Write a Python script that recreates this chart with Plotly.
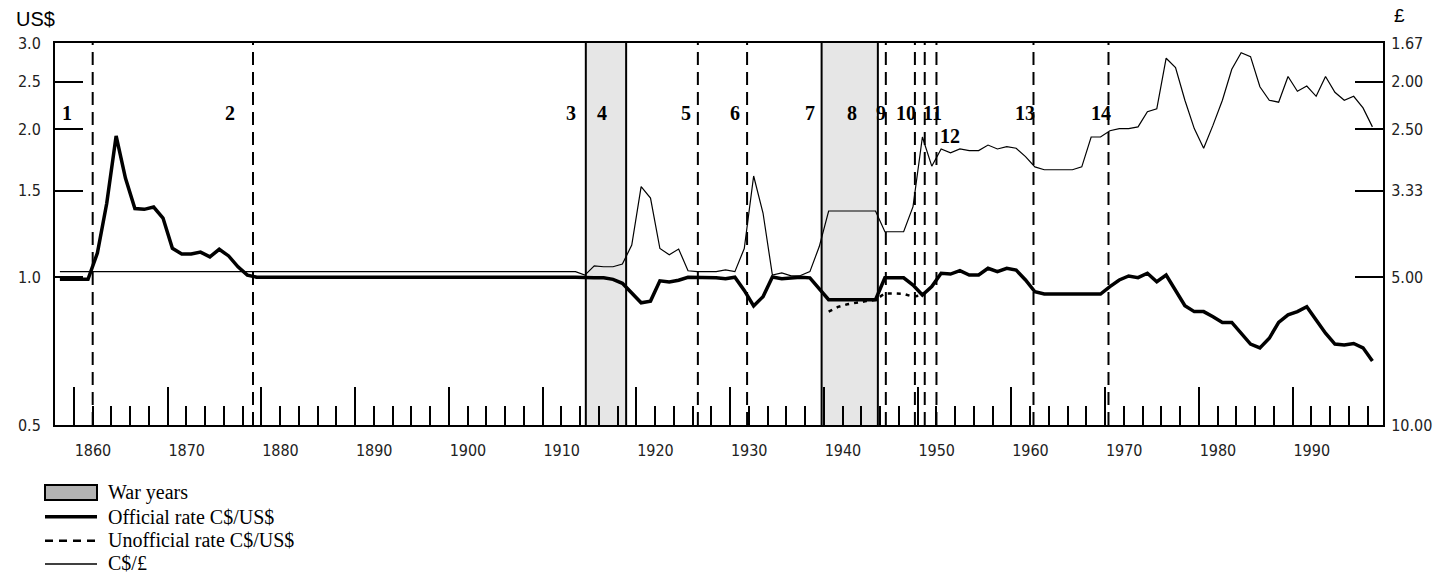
import numpy as np
import plotly.graph_objects as go

# ---------------- data ----------------
official_years = [1858, 1861, 1862, 1863, 1864, 1865, 1866, 1867, 1868, 1869, 1870, 1871, 1872,
                  1873, 1874, 1875, 1876, 1877, 1878, 1879, 1913, 1914, 1915, 1916, 1917, 1918,
                  1919, 1920, 1921, 1922, 1923, 1924, 1925, 1926, 1927, 1928, 1929, 1930, 1931,
                  1932, 1933, 1934, 1935, 1936, 1937, 1938, 1939, 1940, 1941, 1942, 1943, 1944,
                  1945, 1946, 1947, 1948, 1949, 1950, 1951, 1952, 1953, 1954, 1955, 1956, 1957,
                  1958, 1959, 1960, 1961, 1962, 1963, 1964, 1965, 1966, 1967, 1968, 1969, 1970,
                  1971, 1972, 1973, 1974, 1975, 1976, 1977, 1978, 1979, 1980, 1981, 1982, 1983,
                  1984, 1985, 1986, 1987, 1988, 1989, 1990, 1991, 1992, 1993, 1994, 1995, 1996,
                  1997, 1998]
official_rate = [0.99, 0.99, 1.12, 1.415, 1.94, 1.59, 1.38, 1.375, 1.39, 1.32, 1.145, 1.115, 1.115,
                 1.125, 1.10, 1.14, 1.105, 1.05, 1.01, 1.00, 1.00, 0.997, 0.998, 0.997, 0.99, 0.972,
                 0.927, 0.887, 0.894, 0.983, 0.978, 0.986, 1.00, 1.00, 0.997, 0.997, 0.993, 1.00, 0.94,
                 0.874, 0.913, 1.001, 0.993, 0.997, 1.00, 0.997, 0.949, 0.90, 0.90, 0.90, 0.90, 0.90,
                 0.90, 0.997, 0.997, 0.997, 0.964, 0.92, 0.957, 1.019, 1.015, 1.031, 1.0105, 1.0105, 1.043,
                 1.026, 1.043, 1.034, 0.987, 0.934, 0.924, 0.924, 0.924, 0.924, 0.924, 0.924, 0.924, 0.957,
                 0.987, 1.006, 0.998, 1.019, 0.979, 1.0105, 0.939, 0.875, 0.851, 0.851, 0.831, 0.809, 0.809,
                 0.769, 0.731, 0.718, 0.751, 0.809, 0.838, 0.851, 0.871, 0.818, 0.769, 0.731, 0.728, 0.733,
                 0.718, 0.675]

unofficial_years = [1940, 1941, 1942, 1943, 1944, 1945, 1946, 1947, 1948, 1949, 1950]
unofficial_rate = [0.851, 0.870, 0.881, 0.889, 0.894, 0.899, 0.927, 0.927, 0.925, 0.913, 0.92]

sterling_years = [1858, 1913, 1914, 1915, 1916, 1917, 1918, 1919, 1920, 1921, 1922, 1923, 1924,
                  1925, 1926, 1927, 1928, 1929, 1930, 1931, 1932, 1933, 1934, 1935, 1936, 1937,
                  1938, 1939, 1940, 1941, 1942, 1943, 1944, 1945, 1946, 1947, 1948, 1949, 1950,
                  1951, 1952, 1953, 1954, 1955, 1956, 1957, 1958, 1959, 1960, 1961, 1962, 1963,
                  1964, 1965, 1966, 1967, 1968, 1969, 1970, 1971, 1972, 1973, 1974, 1975, 1976,
                  1977, 1978, 1979, 1980, 1981, 1982, 1983, 1984, 1985, 1986, 1987, 1988, 1989,
                  1990, 1991, 1992, 1993, 1994, 1995, 1996, 1997, 1998]
sterling_rate = [4.87, 4.87, 4.95, 4.74, 4.76, 4.76, 4.70, 4.30, 3.27, 3.45, 4.37, 4.50, 4.38,
                 4.85, 4.87, 4.87, 4.87, 4.83, 4.87, 4.37, 3.11, 3.70, 4.95, 4.90, 4.97, 4.96,
                 4.87, 4.33, 3.665, 3.665, 3.665, 3.665, 3.665, 3.665, 4.04, 4.04, 4.04, 3.59, 2.59,
                 2.97, 2.74, 2.79, 2.74, 2.76, 2.76, 2.69, 2.74, 2.71, 2.73, 2.84, 2.98, 3.02,
                 3.02, 3.02, 3.02, 2.98, 2.59, 2.59, 2.515, 2.49, 2.49, 2.47, 2.30, 2.27, 1.79,
                 1.87, 2.18, 2.49, 2.73, 2.45, 2.18, 1.885, 1.744, 1.777, 2.046, 2.18, 2.20, 1.95,
                 2.09, 2.04, 2.14, 1.95, 2.10, 2.18, 2.14, 2.26, 2.47]

war_periods = [(1914.1, 1918.4), (1939.25, 1945.25)]
regime_breaks = [1861.5, 1878.6, 1926.05, 1931.3, 1946.1, 1949.2, 1950.25, 1951.5, 1961.85, 1969.85]
regime_labels = ["1", "2", "3", "4", "5", "6", "7", "8", "9", "10", "11", "12", "13", "14"]
regime_label_x = [1858.8, 1876.15, 1912.5, 1915.8, 1924.8, 1930.0, 1938.0, 1942.5, 1945.6,
                  1948.25, 1951.1, 1952.9, 1960.95, 1969.1]
regime_label_row = [0, 0, 0, 0, 0, 0, 0, 0, 0, 0, 0, 1, 0, 0]

decade_labels = [1860, 1870, 1880, 1890, 1900, 1910, 1920, 1930, 1940, 1950, 1960, 1970, 1980, 1990]
usd_ticks = [0.5, 1.0, 1.5, 2.0, 2.5, 3.0]
usd_ticktext = ["0.5", "1.0", "1.5", "2.0", "2.5", "3.0"]
gbp_ticks = [5 / 3, 2.0, 2.5, 10 / 3, 5.0, 10.0]
gbp_ticktext = ["1.67", "2.00", "2.50", "3.33", "5.00", "10.00"]

legend_names = ["War years", "Official rate C$/US$", "Unofficial rate C$/US$", "C$/£"]

# ---------------- layout ----------------
W, H = 1433, 574
PL, PT, PWID, PHGT = 55, 43, 1328, 382          # plot area in page pixels
ML, MT = PL, PT
MR = W - ML - PWID
MB = H - MT - PHGT


def px(xp):
    return (xp - PL) / PWID


def py(yp):
    return (PT + PHGT - yp) / PHGT


TICKFONT = dict(family="Liberation Sans Narrow, DejaVu Sans Condensed, Arial Narrow, sans-serif",
                size=16, color="#222")
SERIF = "Liberation Serif, DejaVu Serif, serif"

fig = go.Figure()
fig.add_trace(go.Scatter(x=official_years, y=official_rate, mode="lines",
                         line=dict(color="black", width=3.5), name=legend_names[1]))
fig.add_trace(go.Scatter(x=unofficial_years, y=unofficial_rate, mode="lines",
                         line=dict(color="black", width=2.5, dash="4px,5px"),
                         name=legend_names[2]))
fig.add_trace(go.Scatter(x=sterling_years, y=sterling_rate, mode="lines", yaxis="y2",
                         line=dict(color="black", width=1.2), name=legend_names[3]))

shapes = []
for a, b in war_periods:
    shapes.append(dict(type="rect", xref="x", yref="paper", x0=a, x1=b, y0=0, y1=1,
                       fillcolor="#e6e6e6", line=dict(width=0), layer="below"))
    for xv in (a, b):
        shapes.append(dict(type="line", xref="x", yref="paper", x0=xv, x1=xv, y0=0, y1=1,
                           line=dict(color="black", width=2)))
for xv in regime_breaks:
    shapes.append(dict(type="line", xref="x", yref="paper", x0=xv, x1=xv, y0=0, y1=1,
                       line=dict(color="black", width=2, dash="13px,7px")))

# legend keys (drawn below the plot)
shapes.append(dict(type="rect", xref="paper", yref="paper", x0=px(45), x1=px(97),
                   y0=py(500), y1=py(485), fillcolor="#b3b3b3",
                   line=dict(color="black", width=2)))
shapes.append(dict(type="line", xref="paper", yref="paper", x0=px(45), x1=px(97),
                   y0=py(516.7), y1=py(516.7), line=dict(color="black", width=3.5)))
shapes.append(dict(type="line", xref="paper", yref="paper", x0=px(45), x1=px(97),
                   y0=py(540.7), y1=py(540.7), line=dict(color="black", width=2.5, dash="8px,6px")))
shapes.append(dict(type="line", xref="paper", yref="paper", x0=px(45), x1=px(97),
                   y0=py(564), y1=py(564), line=dict(color="black", width=1.5)))

annotations = []
for lab, xv, row in zip(regime_labels, regime_label_x, regime_label_row):
    annotations.append(dict(x=xv, y=py(113) if row == 0 else py(136), xref="x", yref="paper",
                            text=lab, showarrow=False, xanchor="center", yanchor="middle",
                            font=dict(family=SERIF, size=20, color="black", weight="bold")))
for name, yc in zip(legend_names, [492.7, 516.7, 540.0, 563.3]):
    annotations.append(dict(x=px(106), y=py(yc), xref="paper", yref="paper", text=name,
                            xanchor="left", yanchor="middle", showarrow=False,
                            font=dict(family=SERIF, size=20, color="black")))
annotations.append(dict(x=px(35), y=py(19), xref="paper", yref="paper", text="US$",
                        xanchor="center", yanchor="middle", showarrow=False,
                        font=dict(family="Liberation Sans, sans-serif", size=20, color="black")))
annotations.append(dict(x=px(1399), y=py(16), xref="paper", yref="paper", text="£",
                        xanchor="center", yanchor="middle", showarrow=False,
                        font=dict(family="Liberation Sans, sans-serif", size=19, color="black")))

minor_vals = list(np.arange(decade_labels[0] - 0.5, 1999, 2))

fig.update_layout(
    width=W, height=H,
    margin=dict(l=ML, r=MR, t=MT, b=MB),
    paper_bgcolor="white", plot_bgcolor="white",
    shapes=shapes, annotations=annotations,
    showlegend=False,
    xaxis=dict(range=[1857.48, 1999.13], showgrid=False, zeroline=False, automargin=False,
               showline=True, linecolor="black", linewidth=2, mirror=True,
               tickmode="array", tickvals=[d - 0.5 for d in decade_labels],
               ticktext=[str(d) for d in decade_labels],
               ticks="inside", ticklen=38, tickwidth=2, tickcolor="black",
               ticklabelshift=19, ticklabelstandoff=10,
               tickfont=TICKFONT,
               minor=dict(tickmode="array", tickvals=minor_vals, ticks="inside",
                          ticklen=19, tickwidth=2, tickcolor="black")),
    yaxis=dict(type="log", range=[np.log10(0.5), np.log10(3.0)], showgrid=False, automargin=False,
               zeroline=False, showline=True, linecolor="black", linewidth=2,
               tickmode="array", tickvals=usd_ticks, ticktext=usd_ticktext,
               ticks="inside", ticklen=28, tickwidth=2, tickcolor="black",
               ticklabelstandoff=9, tickfont=TICKFONT),
    yaxis2=dict(type="log", range=[np.log10(10.0), np.log10(5 / 3)], overlaying="y",
                side="right", showgrid=False, zeroline=False, showline=True, automargin=False,
                linecolor="black", linewidth=2,
                tickmode="array", tickvals=gbp_ticks, ticktext=gbp_ticktext,
                ticks="inside", ticklen=28, tickwidth=2, tickcolor="black",
                ticklabelstandoff=3, tickfont=TICKFONT),
)

fig.write_html("out.html",
               config={"displayModeBar": False},
               post_script="document.body.style.margin='0px';"
                           "document.body.style.overflow='hidden';")
